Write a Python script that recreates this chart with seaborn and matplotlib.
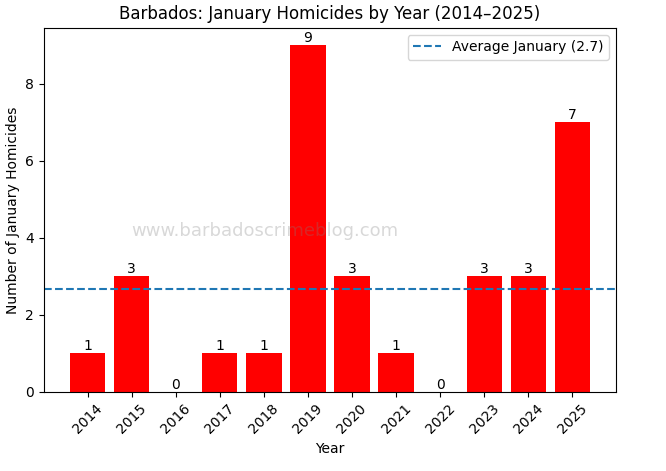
import matplotlib
matplotlib.use("Agg")
import matplotlib.pyplot as plt
import seaborn as sns
import pandas as pd

years = ["2014", "2015", "2016", "2017", "2018", "2019", "2020", "2021", "2022", "2023", "2024", "2025"]
homicides = [1, 3, 0, 1, 1, 9, 3, 1, 0, 3, 3, 7]

df = pd.DataFrame({"Year": years, "Homicides": homicides})
avg = sum(homicides) / len(homicides)

fig, ax = plt.subplots(figsize=(6.66, 4.71), dpi=100)
sns.barplot(data=df, x="Year", y="Homicides", color="red", saturation=1, width=0.8, ax=ax)

# seaborn trims the category margins; put matplotlib's default ones back
ax.set_xlim(-0.99, len(years) - 0.01)
ax.set_ylim(0, max(homicides) * 1.05)

for c in ax.containers:
    ax.bar_label(c, fmt="%d")

ax.axhline(avg, linestyle="--", color="#1f77b4", label=f"Average January ({avg:.1f})")
ax.legend(loc="upper right")

ax.text(0.386, 0.442, "www.barbadoscrimeblog.com", transform=ax.transAxes,
        ha="center", va="center", fontsize=13, color="gray", alpha=0.3)

ax.set_title("Barbados: January Homicides by Year (2014\u20132025)")
ax.set_xlabel("Year")
ax.set_ylabel("Number of January Homicides")
plt.setp(ax.get_xticklabels(), rotation=45)

plt.subplots_adjust(left=0.066, right=0.925, top=0.941, bottom=0.168)
fig.savefig("out.png", dpi=100)
